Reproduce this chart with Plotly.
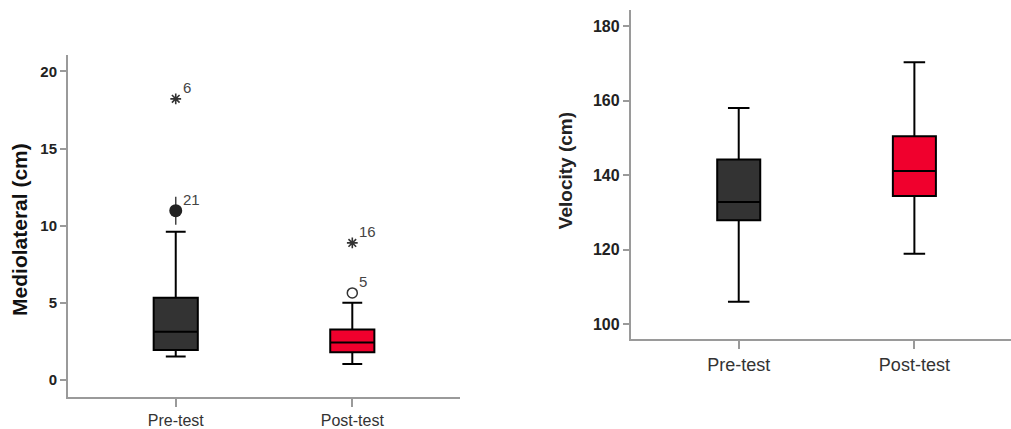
import plotly.graph_objects as go

categories = ["Pre-test", "Post-test"]
box_colors = ["#333333", "#f0002d"]

# Mediolateral (cm) box statistics
ml_q1 = [1.94, 1.79]
ml_median = [3.12, 2.43]
ml_q3 = [5.32, 3.27]
ml_lower = [1.51, 1.03]
ml_upper = [9.61, 5.0]

# Mediolateral outliers: (category index, value, label, symbol)
ml_out_cat = [0, 0, 1, 1]
ml_out_val = [18.22, 10.97, 8.88, 5.64]
ml_out_label = ["6", "21", "16", "5"]
ml_out_symbol = ["asterisk-open", "circle", "asterisk-open", "circle-open"]

# Velocity (cm) box statistics
v_q1 = [127.9, 134.4]
v_median = [132.8, 141.1]
v_q3 = [144.2, 150.4]
v_lower = [106.0, 118.9]
v_upper = [158.0, 170.3]

ml_ticks = [0, 5, 10, 15, 20]
v_ticks = [100, 120, 140, 160, 180]

FONT = "Liberation Sans, Arial"
fig = go.Figure()

for i, cat in enumerate(categories):
    fig.add_trace(go.Box(
        x=[i], q1=[ml_q1[i]], median=[ml_median[i]], q3=[ml_q3[i]],
        lowerfence=[ml_lower[i]], upperfence=[ml_upper[i]],
        width=0.25, whiskerwidth=0.45, fillcolor=box_colors[i],
        line=dict(color="#000000", width=2), boxpoints=False,
        xaxis="x", yaxis="y", showlegend=False, name=cat))
    fig.add_trace(go.Box(
        x=[i], q1=[v_q1[i]], median=[v_median[i]], q3=[v_q3[i]],
        lowerfence=[v_lower[i]], upperfence=[v_upper[i]],
        width=0.245, whiskerwidth=0.5, fillcolor=box_colors[i],
        line=dict(color="#000000", width=2), boxpoints=False,
        xaxis="x2", yaxis="y2", showlegend=False, name=cat))

# vertical bar through the filled outlier (overlapping marks)
fig.add_trace(go.Scatter(
    x=[ml_out_cat[1]], y=[ml_out_val[1]], mode="markers",
    marker=dict(symbol="line-ns-open", size=20, color="#444444",
                line=dict(color="#444444", width=1.5)),
    xaxis="x", yaxis="y", showlegend=False, hoverinfo="skip"))

for c, v, lab, sym in zip(ml_out_cat, ml_out_val, ml_out_label, ml_out_symbol):
    if sym == "circle":
        mk = dict(symbol=sym, size=13, color="#222222")
    elif sym == "circle-open":
        mk = dict(symbol=sym, size=10, color="#333333", line=dict(color="#333333", width=1.5))
    else:
        mk = dict(symbol=sym, size=9, color="#333333", line=dict(color="#333333", width=1.6))
    fig.add_trace(go.Scatter(x=[c], y=[v], mode="markers", marker=mk,
                             xaxis="x", yaxis="y", showlegend=False))
    fig.add_annotation(x=c, y=v, xref="x", yref="y", text=lab, showarrow=False,
                       xanchor="left", yanchor="bottom", xshift=5, yshift=1,
                       font=dict(family=FONT, size=15, color="#444444"))

axis_line = dict(showline=True, linecolor="#9a9a9a", linewidth=2, showgrid=False,
                 zeroline=False, ticks="outside", tickcolor="#9a9a9a", tickwidth=2)

fig.update_layout(
    width=1011, height=429, margin=dict(l=0, r=0, t=0, b=0),
    paper_bgcolor="white", plot_bgcolor="white",
    xaxis=dict(domain=[0.0673, 0.455], range=[-0.61, 1.61], tickvals=[0, 1],
               ticktext=categories, ticklen=8, anchor="y",
               tickfont=dict(family=FONT, size=16, color="#333333"),
               **axis_line),
    yaxis=dict(domain=[0.0699, 0.8718], range=[-1.12, 21.08], tickvals=ml_ticks,
               ticklen=6, anchor="x",
               tickfont=dict(family=FONT, size=15, color="#222222", weight="bold"),
               **axis_line),
    xaxis2=dict(domain=[0.624, 1.0], range=[-0.614, 1.55], tickvals=[0, 1],
                ticktext=categories, ticklen=8, anchor="y2",
                tickfont=dict(family=FONT, size=18, color="#333333"),
                **axis_line),
    yaxis2=dict(domain=[0.2051, 0.9767], range=[95.9, 184.3], tickvals=v_ticks,
                ticklen=6, anchor="x2",
                tickfont=dict(family=FONT, size=16, color="#222222", weight="bold"),
                **axis_line),
)

fig.add_annotation(x=20 / 1011, y=(429 - 231) / 429, xref="paper", yref="paper",
                   text="<b>Mediolateral (cm)</b>", textangle=-90, showarrow=False,
                   xanchor="center", yanchor="middle",
                   font=dict(family=FONT, size=21, color="#111111"))
fig.add_annotation(x=565 / 1011, y=(429 - 172) / 429, xref="paper", yref="paper",
                   text="<b>Velocity (cm)</b>", textangle=-90, showarrow=False,
                   xanchor="center", yanchor="middle",
                   font=dict(family=FONT, size=19, color="#222222"))

fig.write_html("out.html")
